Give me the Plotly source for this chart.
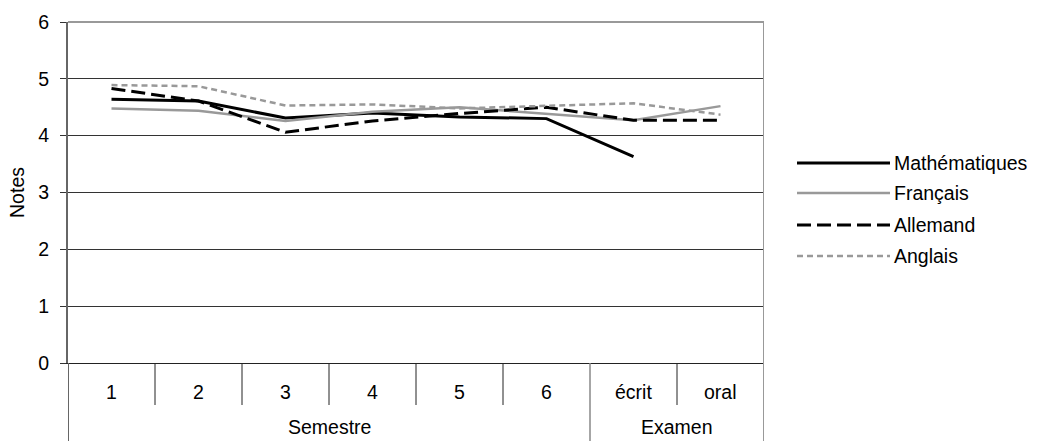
import plotly.graph_objects as go

# Categories (x positions 0..7) and their group labels
categories = ["1", "2", "3", "4", "5", "6", "écrit", "oral"]
groups = ["Semestre", "Examen"]
group_spans = [(0, 5), (6, 7)]

# Average grades per subject
maths = [4.64, 4.61, 4.31, 4.40, 4.33, 4.30, 3.63, None]
francais = [4.48, 4.44, 4.26, 4.42, 4.50, 4.39, 4.27, 4.52]
allemand = [4.83, 4.61, 4.06, 4.26, 4.39, 4.50, 4.27, 4.27]
anglais = [4.89, 4.87, 4.53, 4.55, 4.48, 4.53, 4.57, 4.37]

y_ticks = [0, 1, 2, 3, 4, 5, 6]

FONT = "Liberation Sans, Arial, sans-serif"
FS = 19.5
W, H = 1039, 441
ML, MR, MT, MB = 68, 275, 22, 78
PH = H - MT - MB

series = [
    ("Mathématiques", maths, dict(color="#000000", width=3, dash="solid")),
    ("Français", francais, dict(color="#999999", width=2.5, dash="solid")),
    ("Allemand", allemand, dict(color="#000000", width=3, dash="14px,6px")),
    ("Anglais", anglais, dict(color="#999999", width=2.5, dash="6px,4px")),
]

xs = list(range(len(categories)))
fig = go.Figure()
for name, vals, line in series:
    fig.add_trace(go.Scatter(x=xs, y=vals, mode="lines", name=name, line=line,
                             connectgaps=False, showlegend=False, hoverinfo="skip"))


def py(pix):
    """Vertical pixel offset below the plot bottom -> paper coordinate."""
    return -pix / PH


shapes = []
# category separators in the label table
for b in [0.5, 1.5, 2.5, 3.5, 4.5, 6.5]:
    shapes.append(dict(type="line", xref="x", yref="paper", x0=b, x1=b,
                       y0=0, y1=py(42), line=dict(color="#222222", width=1)))
# group separator
shapes.append(dict(type="line", xref="x", yref="paper", x0=5.5, x1=5.5,
                   y0=0, y1=py(MB), line=dict(color="#888888", width=1.5)))
# left frame extension
shapes.append(dict(type="line", xref="x", yref="paper", x0=-0.5, x1=-0.5,
                   y0=0, y1=py(MB), line=dict(color="#666666", width=2)))
# right frame
shapes.append(dict(type="line", xref="x", yref="paper", x0=7.5, x1=7.5,
                   y0=1, y1=py(MB), line=dict(color="#999999", width=2)))
# top frame
shapes.append(dict(type="line", xref="x", yref="paper", x0=-0.5, x1=7.5,
                   y0=1, y1=1, line=dict(color="#999999", width=2)))

annotations = []
for i, c in enumerate(categories):
    annotations.append(dict(x=i, y=py(29), xref="x", yref="paper", text=c,
                            showarrow=False, font=dict(family=FONT, size=FS, color="#000"),
                            xanchor="center", yanchor="middle"))
for g, (a, b) in zip(groups, group_spans):
    annotations.append(dict(x=(a + b) / 2, y=py(MB - 1), xref="x", yref="paper", text=g,
                            showarrow=False, font=dict(family=FONT, size=FS, color="#000"),
                            xanchor="center", yanchor="bottom"))

# legend drawn beside the plot
PW = W - ML - MR
leg_x0 = (797 - ML) / PW
leg_x1 = (890 - ML) / PW
leg_tx = (892 - ML) / PW
leg_rows = [163, 193, 225, 256]
for (name, _, line), row in zip(series, leg_rows):
    yy = (H - MB - row) / PH
    shapes.append(dict(type="line", xref="paper", yref="paper", x0=leg_x0, x1=leg_x1,
                       y0=yy, y1=yy, line=line))
    annotations.append(dict(x=leg_tx, y=yy, xref="paper", yref="paper", text=name,
                            showarrow=False, xanchor="left", yanchor="middle",
                            font=dict(family=FONT, size=FS, color="#000")))

fig.update_layout(
    width=W, height=H,
    margin=dict(l=ML, r=MR, t=MT, b=MB, pad=0),
    paper_bgcolor="white", plot_bgcolor="white",
    font=dict(family=FONT, size=FS, color="#000"),
    shapes=shapes, annotations=annotations,
    showlegend=False,
)
fig.update_xaxes(range=[-0.5, 7.5], showgrid=False, zeroline=False,
                 showticklabels=False, ticks="", showline=True,
                 linecolor="#222222", linewidth=1, fixedrange=True)
fig.update_yaxes(range=[0, 6], tickvals=y_ticks, showgrid=True, gridcolor="#333333",
                 gridwidth=1, zeroline=False, showline=True, linecolor="#666666",
                 linewidth=2, ticks="outside", ticklen=6, tickcolor="#333333",
                 ticklabelstandoff=7,
                 tickfont=dict(family=FONT, size=FS, color="#000"),
                 title=dict(text="Notes", standoff=8,
                            font=dict(family=FONT, size=FS, color="#000")),
                 fixedrange=True)

fig.write_html("out.html")
